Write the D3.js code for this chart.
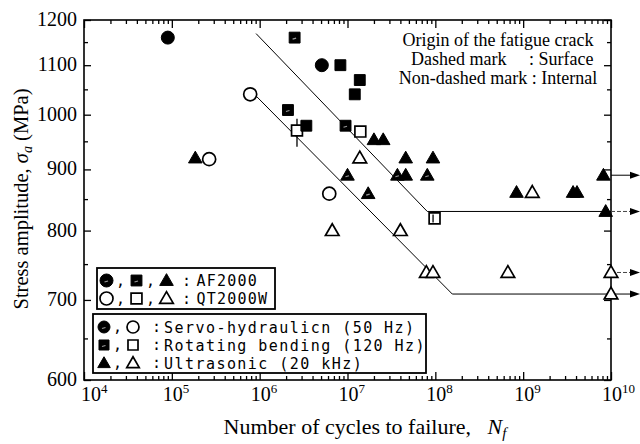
<!DOCTYPE html>
<html><head><meta charset="utf-8">
<script src="https://cdn.jsdelivr.net/npm/d3@7"></script>
<style>
html,body{margin:0;padding:0;background:#fff;}
svg{display:block;}
</style></head>
<body>
<svg id="c" width="640" height="444"></svg>
<script>
// ---- data: [cycles, stress (MPa), surface-origin(dashed) flag]
const afServo   = [[9.0e4,1160,0],[5.1e6,1100,0]];
const afRotating = [[2.5e6,1160,1],[8.3e6,1100,0],[1.38e7,1069,0],[1.21e7,1040,0],[2.1e6,1009,1],[3.4e6,979,0],[9.5e6,979,1]];
const afUltra   = [[2.0e7,953,0],[2.55e7,953,0],[1.85e5,920,0],[1.0e7,890,1],[1.72e7,859,1],[4.6e7,920,0],[9.4e7,920,0],
                   [3.7e7,890,1],[4.6e7,890,0],[8.1e7,890,1],[8.4e8,861,0],[3.7e9,861,0],[4.1e9,861,0],[8.2e9,890,0],[8.7e9,830,0]];
const qtServo   = [[7.8e5,1040,0],[2.66e5,918,0],[6.2e6,859,0]];
const qtRotating = [[2.66e6,970,0],[1.4e7,968,0],[9.8e7,819,1]];
const qtUltra   = [[1.38e7,920,0],[6.7e6,800,0],[4.0e7,800,0],[7.9e7,738,0],[9.4e7,738,0],[6.7e8,738,0],[1.0e10,738,0],[1.0e10,708,0],[1.27e9,861,0]];
const scatterBar = [2.66e6, 940, 992];
const upperLine = [[9.1e5,1169],[8.1e7,830],[1.0e10,830]];
const lowerLine = [[9.3e5,1035],[1.56e8,708],[1.0e10,708]];
const runouts   = [[890,0],[830,1],[738,1],[708,0]]; // stress, dashed arrow
const yTicks = [600,700,800,900,1000,1100,1200];
const yMinor = [650,750,850,950,1050,1150];
const xExp = [4,5,6,7,8,9,10];
const legendMaterials = ["AF2000","QT2000W"];
const legendMethods = ["Servo-hydraulicn (50 Hz)","Rotating bending (120 Hz)","Ultrasonic (20 kHz)"];
const noteLines = ["Origin of the fatigue crack","Dashed mark","Non-dashed mark : Internal"];

// ---- scales
const X0=84, X1=611, Y0=380, Y1=20;
const x = d3.scaleLog().domain([1e4,1e10]).range([X0,X1]);
const y = d3.scaleLog().domain([600,1200]).range([Y0,Y1]);
const svg = d3.select("#c");
const serif = "'Liberation Serif','Times New Roman',serif";
const mono = "'DejaVu Sans Mono',monospace";

// ---- frame & ticks
svg.append("rect").attr("x",X0).attr("y",Y1).attr("width",X1-X0).attr("height",Y0-Y1)
  .attr("fill","none").attr("stroke","#000").attr("stroke-width",1.6);

const minorX = [];
for (let e=4;e<10;e++) for (let k=2;k<=9;k++) minorX.push(k*Math.pow(10,e));
const majorX = xExp.map(e=>Math.pow(10,e));
function axisGroup(gen, tx, ty){
  const g = svg.append("g").attr("transform",`translate(${tx},${ty})`).call(gen);
  g.select(".domain").remove();
  g.selectAll("line").attr("stroke","#000").attr("stroke-width",1.3);
  g.selectAll("text").remove();
  return g;
}
axisGroup(d3.axisTop(x).tickValues(majorX).tickSize(8), 0, Y0);
axisGroup(d3.axisTop(x).tickValues(minorX).tickSize(4), 0, Y0);
axisGroup(d3.axisBottom(x).tickValues(majorX).tickSize(8), 0, Y1);
axisGroup(d3.axisBottom(x).tickValues(minorX).tickSize(4), 0, Y1);
axisGroup(d3.axisRight(y).tickValues(yTicks).tickSize(7), X0, 0);
axisGroup(d3.axisRight(y).tickValues(yMinor).tickSize(4), X0, 0);
axisGroup(d3.axisLeft(y).tickValues(yTicks).tickSize(7), X1, 0);
axisGroup(d3.axisLeft(y).tickValues(yMinor).tickSize(4), X1, 0);

// tick labels
svg.append("g").selectAll("text").data(yTicks).join("text")
  .attr("x",X0-7).attr("y",d=>y(d)+6).attr("text-anchor","end")
  .attr("font-family",serif).attr("font-size",20).text(d=>d);
const xl = svg.append("g").selectAll("text").data(xExp).join("text")
  .attr("x",d=>Math.max(x(Math.pow(10,d))-9, X0-3)).attr("y",Y0+21).attr("text-anchor","start")
  .attr("font-family",serif).attr("font-size",20);
xl.append("tspan").text("10");
xl.append("tspan").attr("dy",-8).attr("font-size",13).text(d=>d);

// axis titles
const yt = svg.append("text").attr("transform","translate(28,199) rotate(-90)")
  .attr("text-anchor","middle").attr("font-family",serif).attr("font-size",20.5);
yt.append("tspan").text("Stress amplitude,  ");
yt.append("tspan").attr("font-style","italic").text("σ");
yt.append("tspan").attr("font-style","italic").attr("font-size",14).attr("dy",4).text("a");
yt.append("tspan").attr("dy",-4).text("  (MPa)");
const xt = svg.append("text").attr("x",365).attr("y",434).attr("text-anchor","middle")
  .attr("font-family",serif).attr("font-size",22);
xt.append("tspan").text("Number of cycles to failure,\u00a0\u00a0\u00a0");
xt.append("tspan").attr("font-style","italic").text("N");
xt.append("tspan").attr("font-style","italic").attr("font-size",15).attr("dy",4).text("f");

// ---- fitted lines
const line = d3.line().x(d=>x(d[0])).y(d=>y(d[1]));
[upperLine, lowerLine].forEach(L=>svg.append("path").attr("d",line(L))
  .attr("fill","none").attr("stroke","#000").attr("stroke-width",1));

// ---- run-out arrows
runouts.forEach(([s,dash])=>{
  const yy=y(s);
  svg.append("line").attr("x1",X1).attr("x2",632).attr("y1",yy).attr("y2",yy)
    .attr("stroke", dash?"#444":"#000").attr("stroke-width",1)
    .attr("stroke-dasharray", dash?"4,2":null);
  svg.append("path").attr("d",`M630,${yy-3.5}L640,${yy}L630,${yy+3.5}Z`).attr("fill","#000");
});

// ---- markers
const shapes = {circle:d3.symbolCircle, square:d3.symbolSquare, triangle:d3.symbolTriangle};
const sizes = {circle:133, square:118, triangle:80};
function marker(g, shape, cx, cy, filled, dashed, scale=1){
  g.append("path").attr("transform",`translate(${cx},${cy + (shape==="triangle"?1:0)})`)
    .attr("d",d3.symbol().type(shapes[shape]).size(sizes[shape]*scale)())
    .attr("fill",filled?"#000":"#fff").attr("stroke","#000").attr("stroke-width",filled?1:1.7);
  if (dashed){
    if (filled){
      g.append("line").attr("x1",cx-2).attr("x2",cx+1.5).attr("y1",cy+1.5).attr("y2",cy+0.5)
        .attr("stroke","#9a9a9a").attr("stroke-width",1.2);
    } else {
      g.append("line").attr("x1",cx-1.5).attr("x2",cx-1.5).attr("y1",cy-4).attr("y2",cy+4)
        .attr("stroke","#000").attr("stroke-width",1.3);
    }
  }
}
const pts = svg.append("g");
// scatter bar
pts.append("line").attr("x1",x(scatterBar[0])).attr("x2",x(scatterBar[0]))
  .attr("y1",y(scatterBar[2])).attr("y2",y(scatterBar[1])).attr("stroke","#000").attr("stroke-width",1.3);
[[qtServo,"circle",false],[qtRotating,"square",false],[qtUltra,"triangle",false],
 [afServo,"circle",true],[afRotating,"square",true],[afUltra,"triangle",true]].forEach(([arr,sh,f])=>{
  arr.forEach(d=>marker(pts, sh, x(d[0]), y(d[1]), f, d[2]));
});

// ---- legend 1 (materials)
const lg = svg.append("g");
lg.append("rect").attr("x",97).attr("y",268).attr("width",178).attr("height",41)
  .attr("fill","#fff").attr("stroke","#000").attr("stroke-width",1.8);
const l1y=[280.5,298.5];
legendMaterials.forEach((t,i)=>{
  const f = i===0, yy=l1y[i];
  marker(lg,"circle",106.5,yy,f,f);
  marker(lg,"square",136.5,yy,f,f);
  marker(lg,"triangle",166.5,yy,f,false);
  lg.append("text").attr("x",116).attr("y",yy+5).attr("font-family",mono).attr("font-size",15).text(",");
  lg.append("text").attr("x",146).attr("y",yy+5).attr("font-family",mono).attr("font-size",15).text(",");
  lg.append("text").attr("x",182).attr("y",yy+5).attr("font-family",mono).attr("font-size",15).text(":");
  lg.append("text").attr("x",196.5).attr("y",yy+5.5).attr("font-family",mono).attr("font-size",15)
    .attr("letter-spacing",1.2).text(t);
});

// ---- legend 2 (methods)
lg.append("rect").attr("x",93).attr("y",314).attr("width",333).attr("height",59)
  .attr("fill","#fff").attr("stroke","#000").attr("stroke-width",1.8);
const l2y=[327,345,363], l2s=["circle","square","triangle"];
legendMethods.forEach((t,i)=>{
  const yy=l2y[i];
  marker(lg,l2s[i],104,yy,true,i<2,0.85);
  marker(lg,l2s[i],133,yy,false,false,0.85);
  lg.append("text").attr("x",113).attr("y",yy+5).attr("font-family",mono).attr("font-size",15).text(",");
  lg.append("text").attr("x",152).attr("y",yy+5).attr("font-family",mono).attr("font-size",15).text(":");
  lg.append("text").attr("x",164).attr("y",yy+5.5).attr("font-family",mono).attr("font-size",15)
    .attr("letter-spacing",1.45).text(t);
});

// ---- note
const nt = svg.append("g").attr("font-family",serif).attr("font-size",18);
nt.append("text").attr("x",498).attr("y",46).attr("text-anchor","middle").text(noteLines[0]);
nt.append("text").attr("x",411).attr("y",65).text(noteLines[1]);
nt.append("text").attr("x",529).attr("y",65).text(": Surface");
nt.append("text").attr("x",498).attr("y",84).attr("text-anchor","middle").text(noteLines[2]);
</script>
</body></html>
